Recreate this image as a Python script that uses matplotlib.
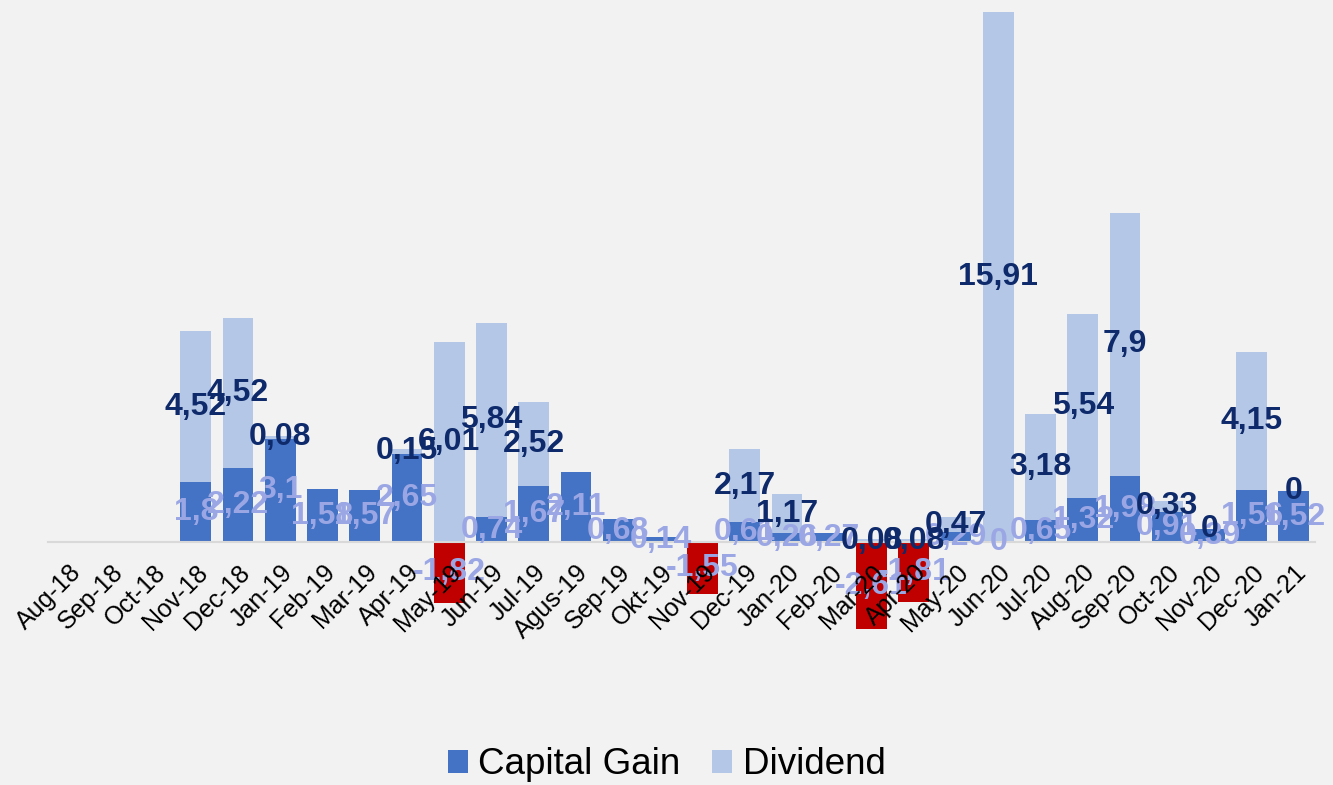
import numpy as np
import matplotlib.pyplot as plt

plt.rcParams['font.family'] = ['Liberation Sans', 'DejaVu Sans']

# ── Data (comma decimals in labels, as in source) ───────────────────────────
months = ["Aug-18", "Sep-18", "Oct-18", "Nov-18", "Dec-18", "Jan-19", "Feb-19",
          "Mar-19", "Apr-19", "May-19", "Jun-19", "Jul-19", "Agus-19", "Sep-19",
          "Okt-19", "Nov-19", "Dec-19", "Jan-20", "Feb-20", "Mar-20", "Apr-20",
          "May-20", "Jun-20", "Jul-20", "Aug-20", "Sep-20", "Oct-20", "Nov-20",
          "Dec-20", "Jan-21"]

capital_gain = [np.nan, np.nan, np.nan, 1.8, 2.22, 3.1, 1.58, 1.57, 2.65, -1.82,
                0.74, 1.67, 2.11, 0.68, 0.14, -1.55, 0.61, 0.26, 0.27, -2.61,
                -1.81, 0.29, 0, 0.65, 1.32, 1.98, 0.91, 0.39, 1.56, 1.52]

dividend = [np.nan, np.nan, np.nan, 4.52, 4.52, 0.08, np.nan, np.nan, 0.15, 6.01,
            5.84, 2.52, np.nan, np.nan, np.nan, np.nan, 2.17, 1.17, np.nan, 0.08,
            0.08, 0.47, 15.91, 3.18, 5.54, 7.9, 0.33, 0, 4.15, 0]

# ── Style ───────────────────────────────────────────────────────────────────
BG = "#F2F2F2"
CG_COLOR = "#4472C4"
NEG_COLOR = "#C00000"
DIV_COLOR = "#B4C7E7"
CG_LABEL = "#9BA7E4"
DIV_LABEL = "#0E2A6B"


def fmt(v):
    return f"{v:g}".replace(".", ",")


x = np.arange(len(months))
cg = np.array(capital_gain, dtype=float)
dv = np.array(dividend, dtype=float)
bottom = np.where(np.isnan(cg), 0, np.clip(cg, 0, None))

fig = plt.figure(figsize=(13.33, 7.85), dpi=100, facecolor=BG)
ax = fig.add_axes([48 / 1333, 145 / 785, 1267 / 1333, 628 / 785], facecolor=BG)

width = 0.73
cg_colors = [NEG_COLOR if v < 0 else CG_COLOR for v in np.nan_to_num(cg)]
ax.bar(x, cg, width, color=cg_colors, label="Capital Gain", zorder=2)
ax.bar(x, dv, width, bottom=bottom, color=DIV_COLOR, label="Dividend", zorder=2)

# data labels: capital gain first, dividend on top
for i, v in enumerate(cg):
    if not np.isnan(v):
        ax.text(i, v / 2, fmt(v), ha="center", va="center", fontsize=23,
                fontweight="bold", color=CG_LABEL, zorder=3)
for i, v in enumerate(dv):
    if not np.isnan(v):
        ax.text(i, bottom[i] + v / 2, fmt(v), ha="center", va="center",
                fontsize=23, fontweight="bold", color=DIV_LABEL, zorder=3.1)

ax.set_xlim(-0.5, len(months) - 0.5)
ax.set_ylim(-2.94, 15.91)

for s in ["top", "right", "left"]:
    ax.spines[s].set_visible(False)
ax.spines["bottom"].set_position(("data", 0))
ax.spines["bottom"].set_color("#D9D9D9")
ax.spines["bottom"].set_linewidth(1.5)
ax.set_yticks([])
ax.set_xticks(x)
ax.set_xticklabels(months, rotation=45, ha="right", va="top",
                   rotation_mode="anchor", fontsize=18)
ax.tick_params(axis="x", length=0, pad=13)
ax.xaxis.set_zorder(4)

leg = fig.legend(loc="center", bbox_to_anchor=(0.5, 1 - 765 / 785), ncol=2,
                 frameon=False, fontsize=26.5, handlelength=0.55, handleheight=0.55,
                 handletextpad=0.28, columnspacing=0.86)

fig.savefig("out.png", dpi=100, facecolor=BG)
